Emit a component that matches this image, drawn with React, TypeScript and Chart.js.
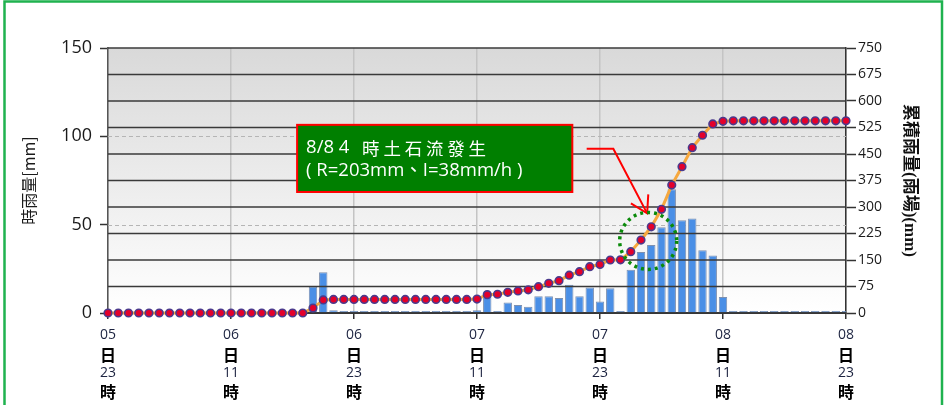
import React, { useEffect, useRef } from 'react';
import { Chart, registerables } from 'chart.js';

Chart.register(...registerables);

// ---------- data ----------
// hourly categories from 05日23時 to 08日23時
const START_DAY = 5;
const START_HOUR = 23;
const HOUR_COUNT = 73;
const CATEGORIES: string[] = [];
for (let i = 0; i < HOUR_COUNT; i++) {
  const t = START_HOUR + i;
  const d = START_DAY + Math.floor(t / 24);
  const h = t % 24;
  CATEGORIES.push(`${String(d).padStart(2, '0')}日${String(h).padStart(2, '0')}時`);
}

// 時雨量 (mm) per hour
const RAIN_HOURLY = [
  0, 0, 0, 0, 0, 0, 0, 0, 0, 0, 0, 0, 0, 0, 0, 0, 0, 0, 0, 0,
  15, 23, 1.5,
  0, 0, 0, 0, 0, 0, 0, 0, 0, 0, 0, 0, 0,
  1.5, 11, 1, 6, 4.5, 3.5, 9.5, 9.5, 8.5, 16, 9.5, 14.5, 6.5, 14, 1,
  24.5, 34.5, 38.5, 48.5, 70, 52.5, 53.5, 35.5, 32.5, 9, 0.5,
  0, 0, 0, 0, 0, 0, 0, 0, 0, 0, 0,
];

// 累積雨量 (mm)
const RAIN_CUMULATIVE = [
  0, 0, 0, 0, 0, 0, 0, 0, 0, 0, 0, 0, 0, 0, 0, 0, 0, 0, 0, 0,
  14, 37, 38.5,
  38.5, 38.5, 38.5, 38.5, 38.5, 38.5, 38.5, 38.5, 38.5, 38.5, 38.5, 38.5, 38.5,
  39.5, 52, 53, 58.5, 62.5, 65.5, 74.5, 84, 91.5, 107, 117, 131, 137.5, 150, 150.5,
  173.5, 206.5, 244, 293.5, 362, 414, 468, 503, 535, 542.5, 544,
  544, 544, 544, 544, 544, 544, 544, 544, 544, 544, 544,
];

const X_TICK_INDEX = [0, 12, 24, 36, 48, 60, 72];
const X_TICK_LABELS = [
  ['05', '日', '23', '時'],
  ['06', '日', '11', '時'],
  ['06', '日', '23', '時'],
  ['07', '日', '11', '時'],
  ['07', '日', '23', '時'],
  ['08', '日', '11', '時'],
  ['08', '日', '23', '時'],
];

const LEFT_MAX = 150;
const LEFT_STEP = 50;
const RIGHT_MAX = 750;
const RIGHT_STEP = 75;

const LEFT_TITLE = '時雨量[mm]';
const RIGHT_TITLE = '累積雨量(雨場)(mm)';

const NOTE_LINE1_A = '8/8 4';
const NOTE_LINE1_B = '時土石流發生';
const NOTE_LINE2 = '( R=203mm、I=38mm/h )';
// note box extent in data units (x: hour index, y: 時雨量 axis)
const NOTE_X = [18.45, 45.3];
const NOTE_Y = [106.5, 68.5];
// arrow path (x: hour index, y: 時雨量 axis)
const ARROW_X = [46.7, 49.3, 52.6];
const ARROW_Y = [93, 93, 56.4];
// event circle (x: hour index, y: 累積雨量 axis)
const EVENT_X = 52.7;
const EVENT_CUM = 204;

// ---------- drawing helpers ----------
const X_LINE_OFFSETS = [22, 42, 60, 79];

const customPlugin = {
  id: 'custom',
  beforeDraw(chart: any) {
    const { ctx, chartArea: a } = chart;
    const g = ctx.createLinearGradient(0, a.top, 0, a.bottom);
    g.addColorStop(0, '#d9d9d9');
    g.addColorStop(1, '#ffffff');
    ctx.save();
    ctx.fillStyle = g;
    ctx.fillRect(a.left, a.top, a.right - a.left, a.bottom - a.top);
    ctx.restore();
  },
  beforeDatasetsDraw(chart: any) {
    const { ctx, chartArea: a } = chart;
    const y = chart.scales.y;
    ctx.save();
    ctx.strokeStyle = '#b5b5b5';
    ctx.lineWidth = 1;
    ctx.setLineDash([4, 3]);
    for (const t of y.ticks) {
      if (t.value === 0 || t.value === LEFT_MAX) continue;
      const py = Math.round(y.getPixelForValue(t.value)) + 0.5;
      ctx.beginPath();
      ctx.moveTo(a.left, py);
      ctx.lineTo(a.right, py);
      ctx.stroke();
    }
    ctx.restore();
  },
  afterDatasetDraw(chart: any, args: any) {
    if (args.index !== 1) return;
    const { ctx, chartArea: a } = chart;
    const y2 = chart.scales.y2;
    ctx.save();
    ctx.strokeStyle = '#3a3a3a';
    ctx.lineWidth = 1.6;
    for (const t of y2.ticks) {
      const py = y2.getPixelForValue(t.value);
      ctx.beginPath();
      ctx.moveTo(a.left, py);
      ctx.lineTo(a.right, py);
      ctx.stroke();
    }
    ctx.restore();
  },
  afterDraw(chart: any) {
    const { ctx, chartArea: a } = chart;
    const xs = chart.scales.x;
    const ys = chart.scales.y;
    const y2 = chart.scales.y2;

    // x tick labels
    ctx.save();
    ctx.textAlign = 'center';
    ctx.textBaseline = 'middle';
    X_TICK_INDEX.forEach((idx, k) => {
      const px = xs.getPixelForValue(idx);
      X_TICK_LABELS[k].forEach((txt, j) => {
        if (j % 2 === 0) {
          ctx.font = "14px 'Open Sans', sans-serif";
          ctx.fillStyle = '#1c2340';
        } else {
          ctx.font = "bold 16px 'Noto Sans CJK TC', sans-serif";
          ctx.fillStyle = '#000';
        }
        ctx.fillText(txt, px, a.bottom + X_LINE_OFFSETS[j]);
      });
    });
    ctx.restore();

    // note box
    const bx1 = xs.getPixelForValue(NOTE_X[0]);
    const bx2 = xs.getPixelForValue(NOTE_X[1]);
    const by1 = ys.getPixelForValue(NOTE_Y[0]);
    const by2 = ys.getPixelForValue(NOTE_Y[1]);
    ctx.save();
    ctx.fillStyle = '#007f00';
    ctx.fillRect(bx1, by1, bx2 - bx1, by2 - by1);
    ctx.strokeStyle = '#ff0000';
    ctx.lineWidth = 2;
    ctx.strokeRect(bx1, by1, bx2 - bx1, by2 - by1);
    ctx.fillStyle = '#ffffff';
    ctx.textBaseline = 'middle';
    ctx.textAlign = 'left';
    ctx.font = "18.5px 'Open Sans', 'Noto Sans CJK TC', sans-serif";
    ctx.fillText(NOTE_LINE1_A, bx1 + 9, by1 + 23);
    ctx.font = "17.5px 'Noto Sans CJK TC', sans-serif";
    (ctx as any).letterSpacing = '3.8px';
    ctx.fillText(NOTE_LINE1_B, bx1 + 65, by1 + 23);
    (ctx as any).letterSpacing = '0px';
    ctx.font = "18.5px 'Open Sans', 'Noto Sans CJK TC', sans-serif";
    ctx.fillText(NOTE_LINE2, bx1 + 9, by1 + 46);
    ctx.restore();

    // arrow
    const pts = ARROW_X.map((v, i) => [xs.getPixelForValue(v), ys.getPixelForValue(ARROW_Y[i])]);
    ctx.save();
    ctx.strokeStyle = '#ff0000';
    ctx.lineWidth = 2;
    ctx.beginPath();
    ctx.moveTo(pts[0][0], pts[0][1]);
    for (let i = 1; i < pts.length; i++) ctx.lineTo(pts[i][0], pts[i][1]);
    ctx.stroke();
    const [tx, ty] = pts[pts.length - 1];
    const [sx, sy] = pts[pts.length - 2];
    const ang = Math.atan2(sy - ty, sx - tx);
    const hl = 19;
    const spread = (31 * Math.PI) / 180;
    ctx.beginPath();
    ctx.moveTo(tx + hl * Math.cos(ang - spread), ty + hl * Math.sin(ang - spread));
    ctx.lineTo(tx, ty);
    ctx.lineTo(tx + hl * Math.cos(ang + spread), ty + hl * Math.sin(ang + spread));
    ctx.stroke();
    ctx.restore();

    // dotted circle
    const cx = xs.getPixelForValue(EVENT_X);
    const cy = y2.getPixelForValue(EVENT_CUM);
    ctx.save();
    ctx.strokeStyle = '#0a8a0a';
    ctx.lineWidth = 3.5;
    ctx.setLineDash([3, 4]);
    ctx.beginPath();
    ctx.arc(cx, cy, 28.5, 0, Math.PI * 2);
    ctx.stroke();
    ctx.restore();

    // outer green frame
    ctx.save();
    ctx.strokeStyle = '#1fb24f';
    ctx.lineWidth = 2.5;
    ctx.strokeRect(4.5, 1.5, 937.5, 430);
    ctx.restore();
  },
};

export default function App() {
  const ref = useRef<HTMLCanvasElement | null>(null);

  useEffect(() => {
    if (!ref.current) return;
    const chart = new Chart(ref.current, {
      type: 'bar',
      data: {
        labels: CATEGORIES,
        datasets: [
          {
            type: 'line',
            label: '累積雨量',
            data: RAIN_CUMULATIVE,
            yAxisID: 'y2',
            borderColor: '#f6a83e',
            borderWidth: 3,
            pointRadius: 3.8,
            pointBackgroundColor: '#e4002b',
            pointBorderColor: '#4b3a8c',
            pointBorderWidth: 1.6,
            tension: 0,
            order: 0,
            clip: false,
          } as any,
          {
            type: 'bar',
            label: '時雨量',
            data: RAIN_HOURLY,
            yAxisID: 'y',
            backgroundColor: '#4a8fe6',
            borderColor: '#7d90b0',
            borderWidth: 1,
            barPercentage: 0.82,
            categoryPercentage: 1,
            minBarLength: 2,
            order: 1,
          } as any,
        ],
      },
      options: {
        responsive: false,
        animation: false,
        devicePixelRatio: 1,
        layout: { padding: { top: 48, left: 0, right: 0, bottom: 0 } },
        plugins: { legend: { display: false }, tooltip: { enabled: false } },
        scales: {
          x: {
            offset: false,
            ticks: { display: false, autoSkip: false },
            grid: {
              offset: false,
              color: (c: any) => (c.index % 12 === 0 ? '#c4c4c4' : 'rgba(0,0,0,0)'),
              lineWidth: 1.5,
              tickLength: 6,
              tickColor: (c: any) => (c.index % 12 === 0 ? '#333' : 'rgba(0,0,0,0)'),
              tickWidth: 1.5,
            },
            border: { color: '#333', width: 2 },
            afterFit: (s: any) => {
              s.height = 92;
            },
          },
          y: {
            position: 'left',
            min: 0,
            max: LEFT_MAX,
            ticks: {
              stepSize: LEFT_STEP,
              padding: 8,
              color: '#1a1a1a',
              font: { family: "'Open Sans', sans-serif", size: 18 },
            },
            grid: { drawOnChartArea: false, tickLength: 8, tickColor: '#333', tickWidth: 1.5 },
            border: { color: '#555', width: 1.5 },
            title: {
              display: true,
              text: LEFT_TITLE,
              color: '#1a1a1a',
              font: { family: "'Noto Sans CJK TC', sans-serif", size: 16 },
              padding: { top: 19, bottom: 0 },
            },
            afterFit: (s: any) => {
              s.width = 108;
            },
          },
          y2: {
            position: 'right',
            min: 0,
            max: RIGHT_MAX,
            ticks: {
              stepSize: RIGHT_STEP,
              padding: 2,
              color: '#1a1a1a',
              font: { family: "'Open Sans', sans-serif", size: 14 },
            },
            grid: { drawOnChartArea: false, tickLength: 10, tickColor: '#333', tickWidth: 1.5 },
            border: { color: '#333', width: 1.5 },
            title: {
              display: true,
              text: RIGHT_TITLE,
              color: '#111',
              font: { family: "'Liberation Serif', 'Noto Sans CJK TC', serif", size: 17, weight: 'bold' },
              padding: { top: 27, bottom: 0 },
            },
            afterFit: (s: any) => {
              s.width = 101;
            },
          },
        },
      } as any,
      plugins: [customPlugin as any],
    });
    return () => chart.destroy();
  }, []);

  return (
    <div style={{ position: 'fixed', left: 0, top: 0, width: 947, height: 405 }}>
      <canvas ref={ref} width={947} height={405} style={{ display: 'block' }} />
    </div>
  );
}
